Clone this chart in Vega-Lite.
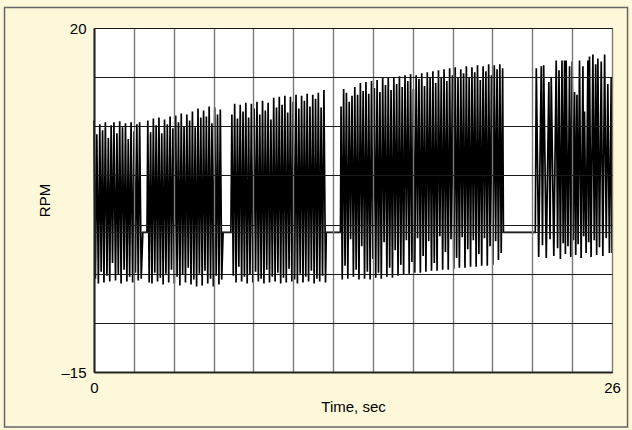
{
  "$schema": "https://vega.github.io/schema/vega-lite/v6.json",
  "width": 518,
  "height": 344,
  "autosize": "none",
  "padding": {"left": 94, "top": 28, "right": 20, "bottom": 58},
  "background": "#FDF8DA",
  "config": {
    "font": "Liberation Sans",
    "view": {"fill": "white", "stroke": "#333", "strokeWidth": 1}
  },
  "data": {"values": [
    {"t":0.00,"rpm":10.6},{"t":0.07,"rpm":-5.5},{"t":0.14,"rpm":9.2},{"t":0.22,"rpm":-6.0},{"t":0.29,"rpm":10.2},{"t":0.36,"rpm":-4.8},{"t":0.43,"rpm":9.6},{"t":0.50,"rpm":-5.9},{"t":0.57,"rpm":10.4},{"t":0.65,"rpm":-5.2},{"t":0.72,"rpm":8.8},{"t":0.79,"rpm":-5.8},{"t":0.86,"rpm":10.1},{"t":0.93,"rpm":-3.9},{"t":1.00,"rpm":10.4},{"t":1.08,"rpm":-5.7},{"t":1.15,"rpm":9.3},{"t":1.22,"rpm":-5.1},{"t":1.29,"rpm":10.5},{"t":1.36,"rpm":-6.0},{"t":1.43,"rpm":9.9},{"t":1.51,"rpm":-4.6},{"t":1.58,"rpm":10.3},{"t":1.65,"rpm":-5.8},{"t":1.72,"rpm":8.7},{"t":1.79,"rpm":-5.3},{"t":1.86,"rpm":10.4},{"t":1.94,"rpm":-5.9},{"t":2.01,"rpm":9.5},{"t":2.08,"rpm":-4.9},{"t":2.15,"rpm":10.2},{"t":2.22,"rpm":-5.7},{"t":2.29,"rpm":10.4},{"t":2.37,"rpm":-5.5},{"t":2.45,"rpm":-0.8},
    {"t":2.66,"rpm":-0.8},{"t":2.70,"rpm":10.6},{"t":2.77,"rpm":-5.9},{"t":2.84,"rpm":9.4},{"t":2.91,"rpm":-6.0},{"t":2.98,"rpm":10.8},{"t":3.05,"rpm":-4.9},{"t":3.12,"rpm":10.1},{"t":3.19,"rpm":-5.8},{"t":3.26,"rpm":10.9},{"t":3.33,"rpm":-5.4},{"t":3.40,"rpm":9.3},{"t":3.47,"rpm":-6.1},{"t":3.54,"rpm":10.7},{"t":3.61,"rpm":-5.0},{"t":3.68,"rpm":10.2},{"t":3.75,"rpm":-5.9},{"t":3.82,"rpm":11.0},{"t":3.89,"rpm":-4.6},{"t":3.96,"rpm":9.8},{"t":4.03,"rpm":-6.0},{"t":4.10,"rpm":11.1},{"t":4.17,"rpm":-5.3},{"t":4.24,"rpm":10.4},{"t":4.31,"rpm":-6.2},{"t":4.38,"rpm":11.3},{"t":4.45,"rpm":-5.1},{"t":4.52,"rpm":10.0},{"t":4.59,"rpm":-5.9},{"t":4.66,"rpm":11.2},{"t":4.73,"rpm":-4.4},{"t":4.80,"rpm":10.6},{"t":4.87,"rpm":-6.1},{"t":4.94,"rpm":11.5},{"t":5.01,"rpm":-5.6},{"t":5.08,"rpm":9.9},{"t":5.15,"rpm":-6.3},{"t":5.22,"rpm":11.8},{"t":5.29,"rpm":-5.0},{"t":5.36,"rpm":10.9},{"t":5.43,"rpm":-6.2},{"t":5.50,"rpm":11.6},{"t":5.57,"rpm":-4.7},{"t":5.64,"rpm":11.0},{"t":5.71,"rpm":-6.0},{"t":5.78,"rpm":12.0},{"t":5.85,"rpm":-5.5},{"t":5.92,"rpm":10.3},{"t":5.99,"rpm":-6.3},{"t":6.06,"rpm":11.9},{"t":6.13,"rpm":-5.2},{"t":6.20,"rpm":11.2},{"t":6.27,"rpm":-6.1},{"t":6.34,"rpm":11.7},{"t":6.41,"rpm":-5.6},{"t":6.48,"rpm":-0.8},
    {"t":6.87,"rpm":-0.8},{"t":6.92,"rpm":11.2},{"t":6.99,"rpm":-5.2},{"t":7.06,"rpm":12.3},{"t":7.13,"rpm":-5.9},{"t":7.20,"rpm":10.8},{"t":7.27,"rpm":-4.3},{"t":7.34,"rpm":12.2},{"t":7.41,"rpm":-5.8},{"t":7.48,"rpm":11.5},{"t":7.55,"rpm":-5.3},{"t":7.62,"rpm":12.4},{"t":7.69,"rpm":-6.0},{"t":7.76,"rpm":10.9},{"t":7.83,"rpm":-5.1},{"t":7.90,"rpm":12.3},{"t":7.97,"rpm":-5.9},{"t":8.04,"rpm":11.8},{"t":8.11,"rpm":-4.8},{"t":8.18,"rpm":12.5},{"t":8.25,"rpm":-5.8},{"t":8.32,"rpm":11.2},{"t":8.39,"rpm":-5.5},{"t":8.46,"rpm":12.6},{"t":8.53,"rpm":-6.0},{"t":8.60,"rpm":11.6},{"t":8.67,"rpm":-4.6},{"t":8.74,"rpm":12.4},{"t":8.81,"rpm":-5.9},{"t":8.88,"rpm":10.7},{"t":8.95,"rpm":-5.3},{"t":9.02,"rpm":12.9},{"t":9.09,"rpm":-5.8},{"t":9.16,"rpm":11.9},{"t":9.23,"rpm":-4.9},{"t":9.30,"rpm":13.0},{"t":9.37,"rpm":-6.0},{"t":9.44,"rpm":12.2},{"t":9.51,"rpm":-5.4},{"t":9.58,"rpm":13.1},{"t":9.65,"rpm":-5.9},{"t":9.72,"rpm":11.4},{"t":9.79,"rpm":-4.5},{"t":9.86,"rpm":13.0},{"t":9.93,"rpm":-5.8},{"t":10.00,"rpm":12.5},{"t":10.07,"rpm":-5.6},{"t":10.14,"rpm":13.2},{"t":10.21,"rpm":-6.0},{"t":10.28,"rpm":11.8},{"t":10.35,"rpm":-5.0},{"t":10.42,"rpm":13.1},{"t":10.49,"rpm":-5.9},{"t":10.56,"rpm":12.6},{"t":10.63,"rpm":-5.3},{"t":10.70,"rpm":13.3},{"t":10.77,"rpm":-5.8},{"t":10.84,"rpm":12.0},{"t":10.91,"rpm":-4.7},{"t":10.98,"rpm":13.2},{"t":11.05,"rpm":-6.0},{"t":11.12,"rpm":12.8},{"t":11.19,"rpm":-5.5},{"t":11.26,"rpm":13.4},{"t":11.33,"rpm":-5.8},{"t":11.40,"rpm":11.9},{"t":11.47,"rpm":-5.2},{"t":11.54,"rpm":13.7},{"t":11.62,"rpm":-5.9},{"t":11.66,"rpm":-0.8},
    {"t":12.37,"rpm":-0.8},{"t":12.40,"rpm":12.0},{"t":12.46,"rpm":-5.6},{"t":12.53,"rpm":13.8},{"t":12.60,"rpm":-4.2},{"t":12.67,"rpm":13.4},{"t":12.74,"rpm":-5.5},{"t":12.81,"rpm":12.5},{"t":12.88,"rpm":-1.5},{"t":12.95,"rpm":13.1},{"t":13.02,"rpm":-5.3},{"t":13.09,"rpm":14.0},{"t":13.16,"rpm":-4.6},{"t":13.23,"rpm":13.2},{"t":13.30,"rpm":-5.6},{"t":13.37,"rpm":14.4},{"t":13.44,"rpm":-2.2},{"t":13.51,"rpm":13.6},{"t":13.58,"rpm":-5.5},{"t":13.65,"rpm":14.5},{"t":13.72,"rpm":-4.8},{"t":13.79,"rpm":13.3},{"t":13.86,"rpm":-5.6},{"t":13.93,"rpm":14.6},{"t":14.00,"rpm":-3.5},{"t":14.07,"rpm":13.9},{"t":14.14,"rpm":-5.4},{"t":14.21,"rpm":14.7},{"t":14.28,"rpm":-4.9},{"t":14.35,"rpm":13.5},{"t":14.42,"rpm":-5.5},{"t":14.49,"rpm":14.9},{"t":14.56,"rpm":-1.8},{"t":14.63,"rpm":14.2},{"t":14.70,"rpm":-5.3},{"t":14.77,"rpm":14.9},{"t":14.84,"rpm":-4.4},{"t":14.91,"rpm":13.7},{"t":14.98,"rpm":-5.4},{"t":15.05,"rpm":15.0},{"t":15.12,"rpm":-2.6},{"t":15.19,"rpm":14.3},{"t":15.26,"rpm":-5.2},{"t":15.33,"rpm":15.1},{"t":15.40,"rpm":-4.1},{"t":15.47,"rpm":14.0},{"t":15.54,"rpm":-5.1},{"t":15.61,"rpm":15.2},{"t":15.68,"rpm":-1.6},{"t":15.75,"rpm":14.6},{"t":15.82,"rpm":-5.0},{"t":15.89,"rpm":15.3},{"t":15.96,"rpm":-3.8},{"t":16.03,"rpm":13.8},{"t":16.10,"rpm":-4.9},{"t":16.17,"rpm":15.2},{"t":16.24,"rpm":-1.4},{"t":16.31,"rpm":14.8},{"t":16.38,"rpm":-4.9},{"t":16.45,"rpm":15.4},{"t":16.52,"rpm":-3.2},{"t":16.59,"rpm":14.1},{"t":16.66,"rpm":-4.8},{"t":16.73,"rpm":15.5},{"t":16.80,"rpm":-1.7},{"t":16.87,"rpm":14.9},{"t":16.94,"rpm":-4.7},{"t":17.01,"rpm":15.6},{"t":17.08,"rpm":-3.9},{"t":17.15,"rpm":14.4},{"t":17.22,"rpm":-4.7},{"t":17.29,"rpm":15.7},{"t":17.36,"rpm":-1.2},{"t":17.43,"rpm":15.0},{"t":17.50,"rpm":-4.6},{"t":17.57,"rpm":15.8},{"t":17.64,"rpm":-2.8},{"t":17.71,"rpm":14.6},{"t":17.78,"rpm":-4.6},{"t":17.85,"rpm":15.9},{"t":17.92,"rpm":-1.5},{"t":17.99,"rpm":15.2},{"t":18.06,"rpm":-4.5},{"t":18.13,"rpm":16.0},{"t":18.20,"rpm":-3.4},{"t":18.27,"rpm":14.9},{"t":18.34,"rpm":-4.4},{"t":18.41,"rpm":15.8},{"t":18.48,"rpm":-1.3},{"t":18.55,"rpm":15.4},{"t":18.62,"rpm":-4.4},{"t":18.69,"rpm":16.1},{"t":18.76,"rpm":-2.5},{"t":18.83,"rpm":15.0},{"t":18.90,"rpm":-4.3},{"t":18.97,"rpm":16.0},{"t":19.04,"rpm":-1.6},{"t":19.11,"rpm":15.5},{"t":19.18,"rpm":-4.3},{"t":19.25,"rpm":16.2},{"t":19.32,"rpm":-3.0},{"t":19.39,"rpm":14.7},{"t":19.46,"rpm":-4.2},{"t":19.53,"rpm":16.1},{"t":19.60,"rpm":-1.4},{"t":19.67,"rpm":15.6},{"t":19.74,"rpm":-4.2},{"t":19.81,"rpm":16.3},{"t":19.88,"rpm":-2.2},{"t":19.95,"rpm":15.2},{"t":20.02,"rpm":-4.1},{"t":20.09,"rpm":16.2},{"t":20.16,"rpm":-1.7},{"t":20.23,"rpm":15.8},{"t":20.30,"rpm":-3.6},{"t":20.37,"rpm":16.3},{"t":20.44,"rpm":-2.9},{"t":20.51,"rpm":15.9},{"t":20.55,"rpm":-0.8},
    {"t":22.15,"rpm":-0.8},{"t":22.20,"rpm":15.9},{"t":22.32,"rpm":-3.3},{"t":22.45,"rpm":16.1},{"t":22.51,"rpm":-2.1},{"t":22.57,"rpm":16.2},{"t":22.70,"rpm":-3.4},{"t":22.83,"rpm":14.5},{"t":22.89,"rpm":-1.5},{"t":22.95,"rpm":15.0},{"t":23.08,"rpm":-3.2},{"t":23.20,"rpm":16.7},{"t":23.27,"rpm":-2.4},{"t":23.34,"rpm":15.7},{"t":23.41,"rpm":-3.5},{"t":23.49,"rpm":16.7},{"t":23.55,"rpm":-1.9},{"t":23.62,"rpm":16.7},{"t":23.66,"rpm":-3.0},{"t":23.70,"rpm":16.7},{"t":23.79,"rpm":-2.2},{"t":23.87,"rpm":16.1},{"t":23.93,"rpm":-3.3},{"t":24.00,"rpm":16.6},{"t":24.06,"rpm":-1.6},{"t":24.12,"rpm":13.5},{"t":24.18,"rpm":-3.1},{"t":24.24,"rpm":13.2},{"t":24.30,"rpm":-2.0},{"t":24.37,"rpm":16.7},{"t":24.45,"rpm":-3.4},{"t":24.54,"rpm":16.1},{"t":24.58,"rpm":-1.2},{"t":24.62,"rpm":11.5},{"t":24.70,"rpm":-2.9},{"t":24.79,"rpm":16.7},{"t":24.83,"rpm":-1.8},{"t":24.87,"rpm":17.1},{"t":24.95,"rpm":-3.3},{"t":25.04,"rpm":17.3},{"t":25.11,"rpm":-1.6},{"t":25.18,"rpm":16.3},{"t":25.23,"rpm":-3.1},{"t":25.29,"rpm":16.9},{"t":25.37,"rpm":-2.3},{"t":25.46,"rpm":16.6},{"t":25.54,"rpm":-3.2},{"t":25.63,"rpm":17.3},{"t":25.71,"rpm":-1.4},{"t":25.79,"rpm":14.3},{"t":25.87,"rpm":-2.9},{"t":25.96,"rpm":15.0},{"t":26.00,"rpm":-2.9}
  ]},
  "layer": [
    {
      "mark": {"type": "line", "color": "black", "strokeWidth": 1.7},
      "encoding": {
        "x": {
          "field": "t", "type": "quantitative",
          "scale": {"domain": [0, 26], "nice": false, "zero": false},
          "axis": {
            "title": "Time, sec", "titleFontSize": 15, "titleFontWeight": "normal", "titleColor": "black", "titlePadding": 4,
            "values": [0, 2, 4, 6, 8, 10, 12, 14, 16, 18, 20, 22, 24, 26],
            "tickCount": 30,
            "labelExpr": "datum.value == 0 || datum.value == 26 ? datum.label : ''",
            "labelFontSize": 15, "labelColor": "black", "labelFlush": false, "labelOverlap": false, "labelPadding": 8,
            "ticks": false, "tickSize": 0,
            "domainColor": "#222", "domainWidth": 2,
            "grid": true, "gridColor": "#7a7a7a", "gridWidth": 1.4, "gridOpacity": 1,
            "zindex": 1
          }
        },
        "y": {
          "field": "rpm", "type": "quantitative",
          "scale": {"domain": [-15, 20], "nice": false, "zero": false},
          "axis": {
            "title": "RPM", "titleFontSize": 15, "titleFontWeight": "normal", "titleColor": "black", "titlePadding": 8,
            "values": [-15, -10, -5, 0, 5, 10, 15, 20],
            "tickCount": 20,
            "labelExpr": "datum.value == -15 ? '–15' : datum.value == 20 ? '20' : ''",
            "labelFontSize": 15, "labelColor": "black", "labelFlush": false, "labelOverlap": false, "labelPadding": 8,
            "ticks": false, "tickSize": 0,
            "domainColor": "#222", "domainWidth": 2,
            "grid": true, "gridColor": "#1a1a1a", "gridWidth": 1.2, "gridOpacity": 1,
            "zindex": 1
          }
        }
      }
    },
    {
      "data": {"values": [{"level": -0.8}]},
      "mark": {"type": "rule", "color": "#222", "strokeWidth": 1.1},
      "encoding": {
        "y": {"field": "level", "type": "quantitative", "scale": {"domain": [-15, 20], "nice": false, "zero": false}}
      }
    },
    {
      "data": {"values": [{"x0": -4.49, "x1": 26.78, "y0": -20.6, "y1": 22.09}]},
      "mark": {"type": "rect", "fill": null, "stroke": "#666", "strokeWidth": 1.5, "clip": false},
      "encoding": {
        "x": {"field": "x0", "type": "quantitative", "scale": {"domain": [0, 26], "nice": false, "zero": false}},
        "x2": {"field": "x1"},
        "y": {"field": "y0", "type": "quantitative", "scale": {"domain": [-15, 20], "nice": false, "zero": false}},
        "y2": {"field": "y1"}
      }
    }
  ]
}
